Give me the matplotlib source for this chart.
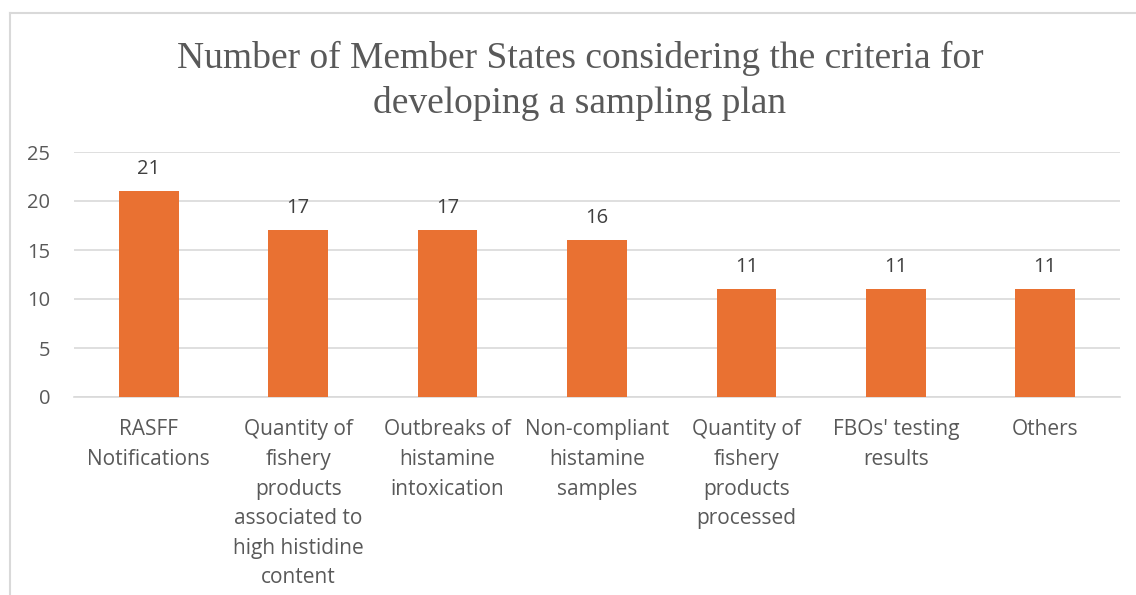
import matplotlib
matplotlib.use("Agg")
import matplotlib.pyplot as plt
from matplotlib.lines import Line2D

categories = [
    "RASFF\nNotifications",
    "Quantity of\nfishery\nproducts\nassociated to\nhigh histidine\ncontent",
    "Outbreaks of\nhistamine\nintoxication",
    "Non-compliant\nhistamine\nsamples",
    "Quantity of\nfishery\nproducts\nprocessed",
    "FBOs' testing\nresults",
    "Others",
]
values = [21, 17, 17, 16, 11, 11, 11]
yticks = [0, 5, 10, 15, 20, 25]
title = "Number of Member States considering the criteria for\ndeveloping a sampling plan"

W, H = 1136, 595
fig = plt.figure(figsize=(W / 100, H / 100), dpi=100)
ax = fig.add_axes([74 / W, 1 - 397 / H, (1120 - 74) / W, (397 - 152) / H])

x = list(range(len(categories)))
bars = ax.bar(x, values, width=0.4, color="#E97132", zorder=3)
ax.set_xlim(-0.5, len(categories) - 0.5)
ax.set_ylim(0, 25)
ax.set_yticks(yticks)
ax.grid(axis="y", color="#d9d9d9", linewidth=1.2, zorder=0)
for s in ["top", "right", "left"]:
    ax.spines[s].set_visible(False)
ax.spines["bottom"].set_color("#d9d9d9")
ax.spines["bottom"].set_linewidth(1.2)
ax.tick_params(axis="both", length=0, labelsize=14.5, labelcolor="#595959")
ax.tick_params(axis="y", pad=17)
ax.tick_params(axis="x", pad=16, labelsize=15)
ax.set_xticks(x)
ax.set_xticklabels(categories, fontfamily="Open Sans", linespacing=1.54)
for lab in ax.get_yticklabels():
    lab.set_fontfamily("Open Sans")

for b, v in zip(bars, values):
    ax.annotate(str(v), (b.get_x() + b.get_width() / 2, v), xytext=(0, 9),
                textcoords="offset points", ha="center", va="bottom",
                fontsize=14.5, color="#404040", fontfamily="Open Sans")

fig.text(580 / W, 1 - 81 / H, title, ha="center", va="center",
         fontsize=27, color="#595959", fontfamily="Liberation Serif",
         linespacing=1.38)

fig.add_artist(Line2D([10 / W, 1], [1 - 13 / H, 1 - 13 / H], color="#d9d9d9",
                      linewidth=1.5, transform=fig.transFigure))
fig.add_artist(Line2D([10 / W, 10 / W], [0, 1 - 13 / H], color="#d9d9d9",
                      linewidth=1.5, transform=fig.transFigure))

fig.savefig("out.png", dpi=100)
